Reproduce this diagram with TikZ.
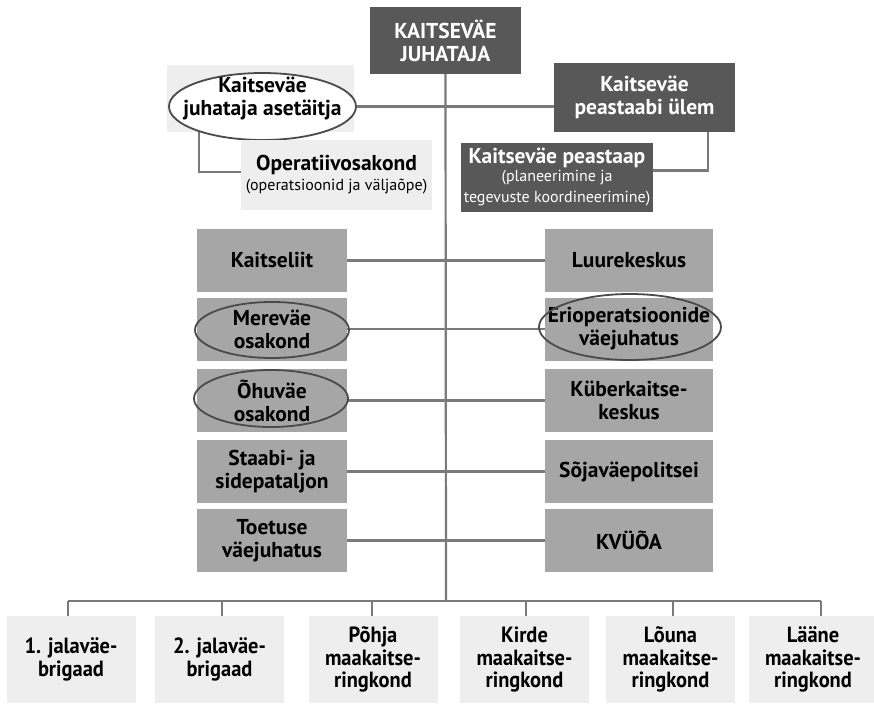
\documentclass[tikz,border=0pt]{standalone}
\usepackage{fontspec}
\setmainfont{PT Sans}
\newfontfamily\condfont[FakeStretch=0.93]{PT Sans}
\usetikzlibrary{shapes.geometric,backgrounds,calc}
\definecolor{darkbox}{HTML}{585858}
\definecolor{midbox}{HTML}{A6A6A6}
\definecolor{lightbox}{HTML}{EEEEEE}
\definecolor{linec}{HTML}{7A7A7A}
\definecolor{ellc}{HTML}{4A4A4A}
\newcommand{\bigtxt}{\fontsize{21.5}{23}\selectfont\bfseries}
\newcommand{\smalltxt}{\fontsize{16}{18}\selectfont\mdseries}
\begin{document}
\begin{tikzpicture}[x=1pt,y=-1pt,
  box/.style={rectangle, inner sep=0pt, align=center, font=\bigtxt},
  darkb/.style={box, fill=darkbox, text=white},
  midb/.style={box, fill=midbox, text=black},
  lightb/.style={box, fill=lightbox, text=black},
  ring/.style={ellipse, draw=ellc, line width=1.8pt, inner sep=0pt},
  label/.style={inner sep=0pt, align=center, font=\bigtxt},
  botb/.style={box, fill=lightbox, text=black, minimum width=129pt, minimum height=87pt,
    font=\condfont\fontsize{22}{22.5}\selectfont\bfseries},
  conn/.style={draw=linec, line width=2.2pt},
]
\useasboundingbox (0,0) rectangle (874,704);

% top
\node[darkb, minimum width=151pt, minimum height=67pt] (kvj) at (445.5,40.5) {KAITSEVÄE\\JUHATAJA};
\node[lightb, minimum width=187pt, minimum height=67pt] (asebg) at (260.5,98.5) {};
\node[ring, fill=white, minimum width=187pt, minimum height=67pt] (ase) at (262.5,106.5) {};
\node[label] (asetxt) at (262.5,98) {Kaitseväe\\juhataja asetäitja};
\node[darkb, minimum width=181pt, minimum height=69pt] (ulem) at (644.5,97.5) {Kaitseväe\\peastaabi ülem};
\node[lightb, minimum width=191pt, minimum height=70pt] (oper) at (336.5,175) {Operatiivosakond\\[-3pt]{\smalltxt (operatsioonid ja väljaõpe)}};
\node[darkb, minimum width=192pt, minimum height=69pt] (peastaap) at (557,177.5) {Kaitseväe peastaap\\[-5pt]{\smalltxt (planeerimine ja}\\[-2pt]{\smalltxt tegevuste koordineerimine)}};

% middle rows
\node[midb, minimum width=150pt, minimum height=63pt] (l1) at (272,260.5) {Kaitseliit};
\node[midb, minimum width=168pt, minimum height=63pt] (r1) at (629,260.5) {Luurekeskus};
\node[midb, minimum width=150pt, minimum height=63pt] (l2) at (272,329) {Mereväe\\osakond};
\node[ring, minimum width=154pt, minimum height=56pt] (l2e) at (272,330) {};
\node[midb, minimum width=168pt, minimum height=63pt] (r2) at (629,329) {Erioperatsioonide\\väejuhatus};
\node[ring, minimum width=182pt, minimum height=66pt] (r2e) at (630,327) {};
\node[midb, minimum width=150pt, minimum height=63pt] (l3) at (272,400.5) {Õhuväe\\osakond};
\node[ring, minimum width=154pt, minimum height=57pt] (l3e) at (271,398.5) {};
\node[midb, minimum width=168pt, minimum height=63pt] (r3) at (629,400.5) {Küberkaitse-\\keskus};
\node[midb, minimum width=150pt, minimum height=63pt] (l4) at (272,471.5) {Staabi- ja\\sidepataljon};
\node[midb, minimum width=168pt, minimum height=63pt] (r4) at (629,471.5) {Sõjaväepolitsei};
\node[midb, minimum width=150pt, minimum height=63pt] (l5) at (272,540.5) {Toetuse\\väejuhatus};
\node[midb, minimum width=168pt, minimum height=63pt] (r5) at (629,540.5) {KVÜÕA};

% bottom
\node[botb] (b1) at (71,659.5) {1. jalaväe-\\brigaad};
\node[botb] (b2) at (219.5,659.5) {2. jalaväe-\\brigaad};
\node[botb] (b3) at (373,659.5) {Põhja\\maakaitse-\\ringkond};
\node[botb] (b4) at (524.5,659.5) {Kirde\\maakaitse-\\ringkond};
\node[botb] (b5) at (670.5,659.5) {Lõuna\\maakaitse-\\ringkond};
\node[botb] (b6) at (813,659.5) {Lääne\\maakaitse-\\ringkond};

\coordinate (bus) at (446,601);
\coordinate (d1) at (68,601);
\coordinate (d6) at (821,601);
\coordinate (asedrop) at (199,132);
\coordinate (uldrop) at (708,132);

\begin{scope}[on background layer]
  \draw[conn] (kvj.south) -- (bus);
  \draw[conn] (ase.east) -- (ase.east -| ulem.west);
  \draw[conn] (asedrop) |- ($(oper.west)+(0,-3)$);
  \draw[conn] (uldrop) |- ($(peastaap.east)+(0,-7)$);
  \foreach \i in {1,...,5} {
    \draw[conn] (l\i.east) -- (r\i.west);
  }
  \draw[conn] (d1) -- (d6);
  \draw[conn] (d1) -- (d1 |- b1.north);
  \draw[conn] (d6) -- (d6 |- b6.north);
  \foreach \i/\x in {2/222,3/372,4/526,5/673} {
    \draw[conn] (\x,601) -- (\x,601 |- b\i.north);
  }
\end{scope}
\end{tikzpicture}
\end{document}
